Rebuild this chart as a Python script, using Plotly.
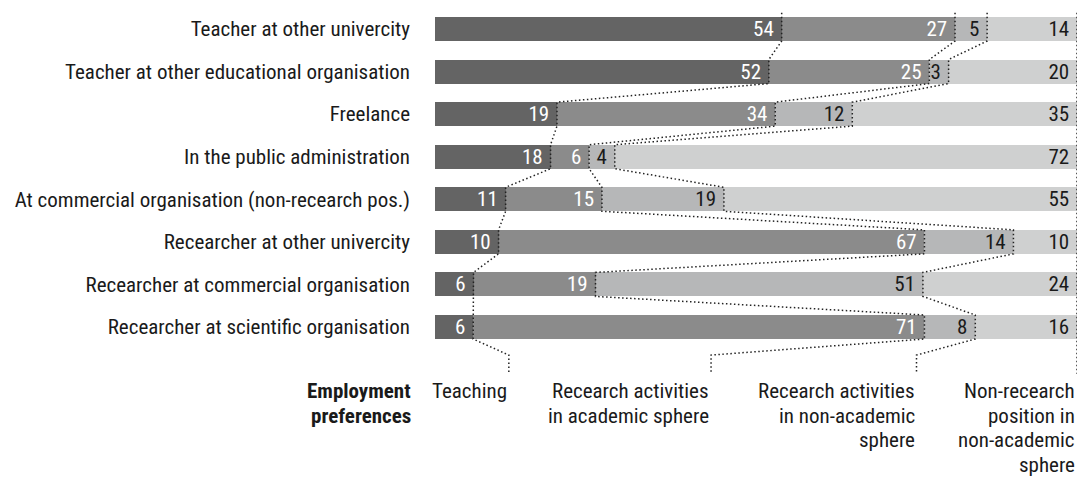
import plotly.graph_objects as go
import numpy as np

categories = [
    "Teacher at other univercity",
    "Teacher at other educational organisation",
    "Freelance",
    "In the public administration",
    "At commercial organisation (non-recearch pos.)",
    "Recearcher at other univercity",
    "Recearcher at commercial organisation",
    "Recearcher at scientific organisation",
]
teaching = [54, 52, 19, 18, 11, 10, 6, 6]
academic = [27, 25, 34, 6, 15, 67, 19, 71]
nonacademic = [5, 3, 12, 4, 19, 14, 51, 8]
nonresearch = [14, 20, 35, 72, 55, 10, 24, 16]

series_names = [
    "Teaching",
    "Recearch activities<br>in academic sphere",
    "Recearch activities<br>in non-academic<br>sphere",
    "Non-recearch<br>position in<br>non-academic<br>sphere",
]
overall = [11.5, 31.5, 32, 25]
section_title = "Employment<br>preferences"

colors = ["#646464", "#8b8b8b", "#b6b7b8", "#cfd0d0"]
text_colors = ["#ffffff", "#ffffff", "#1a1a1a", "#1a1a1a"]
FONT = "Roboto Condensed, Liberation Sans Narrow, DejaVu Sans Condensed, Arial Narrow, sans-serif"
FS = 21

series = [teaching, academic, nonacademic, nonresearch]
n = len(categories)
ypos = list(range(n))
PX = 42.57            # pixels per row unit
BAR_W = 24 / PX
HW = BAR_W / 2

fig = go.Figure()
for vals, col, tcol, name in zip(series, colors, text_colors, series_names):
    fig.add_trace(go.Bar(
        y=ypos, x=vals, orientation="h", width=BAR_W,
        marker=dict(color=col, line=dict(width=0)),
        text=[f"{v}\u00a0" for v in vals],
        textposition="inside", insidetextanchor="end",
        textangle=0, constraintext="none",
        insidetextfont=dict(color=tcol, size=FS, family=FONT),
        hoverinfo="skip", showlegend=False, name=name,
    ))

# dotted connectors between segment boundaries
arr = np.array(series, dtype=float)  # 4 x n
shares = arr / arr.sum(axis=0) * 100
cums = np.cumsum(shares, axis=0)
ov_cum = np.cumsum(overall)
for k in range(4):
    xs = [cums[k, 0]]
    ys = [-HW - 0.1]
    for r in range(n):
        xs += [cums[k, r], cums[k, r]]
        ys += [r - HW, r + HW]
    xs += [ov_cum[k], ov_cum[k]]
    ys += [7.66, 8.10]
    fig.add_trace(go.Scatter(
        x=xs, y=ys, mode="lines",
        line=dict(color="#222222", width=1.5, dash="1.5px,2.5px"),
        hoverinfo="skip", showlegend=False, cliponaxis=False,
    ))

LINE0 = (391 - 29) / PX
PITCH = 24.5 / PX
annotations = []
for k, name in enumerate(series_names):
    for j, line in enumerate(name.split("<br>")):
        annotations.append(dict(
            x=ov_cum[k], y=LINE0 + j * PITCH, xref="x", yref="y", text=line,
            xanchor="right", yanchor="middle", align="right", showarrow=False,
            font=dict(size=FS, family=FONT, color="#1a1a1a"),
        ))
for j, line in enumerate(section_title.split("<br>")):
    annotations.append(dict(
        x=0, y=LINE0 + j * PITCH, xref="paper", yref="y", xshift=-22,
        text=f"<b>{line}</b>",
        xanchor="right", yanchor="middle", align="right", showarrow=False,
        font=dict(size=FS, family=FONT, color="#1a1a1a"),
    ))

ymin = -29 / PX
ymax = ymin + 483 / PX
fig.update_layout(
    width=1080, height=483,
    margin=dict(l=435, r=3, t=0, b=0),
    barmode="stack", barnorm="percent",
    plot_bgcolor="white", paper_bgcolor="white",
    font=dict(family=FONT, size=FS, color="#1a1a1a"),
    xaxis=dict(range=[0, 100], visible=False, fixedrange=True),
    yaxis=dict(range=[ymax, ymin], tickvals=ypos, ticktext=categories,
               showgrid=False, zeroline=False, showline=False, ticks="",
               fixedrange=True,
               ticklabelstandoff=24, tickfont=dict(size=FS, family=FONT, color="#1a1a1a")),
    annotations=annotations,
)
fig.write_html(
    "out.html",
    config={"displayModeBar": False},
    post_script="document.body.style.margin='0';document.body.style.overflow='hidden';",
)
